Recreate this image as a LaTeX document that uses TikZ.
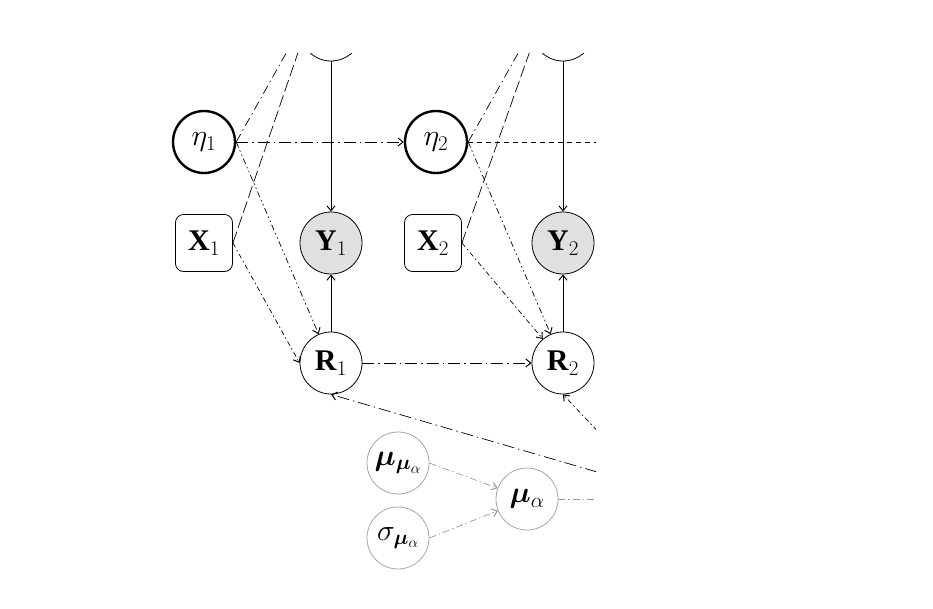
\RequirePackage{fix-cm}
\documentclass[tikz,border=0pt]{standalone}
\usepackage{amsmath,bm}
\usepackage{fontspec}
\setmainfont{Liberation Serif}
\usetikzlibrary{arrows.meta}
\tikzset{
  nd/.style={circle,draw,line width=0.8pt,minimum size=62pt,inner sep=0pt,font=\fontsize{30}{32}\selectfont},
  etand/.style={nd,line width=2.4pt},
  obs/.style={nd,fill=black!12},
  xbox/.style={rectangle,rounded corners=8pt,draw,line width=0.8pt,minimum size=57pt,inner sep=0pt,font=\fontsize{30}{32}\selectfont},
  hyp/.style={nd,draw=black!35},
  arr/.style={-{Straight Barb[length=5pt,width=8pt,line width=1pt]},line width=0.7pt},
  ee/.style={dash pattern=on 12pt off 4pt on 1.5pt off 4pt},
  er/.style={dash pattern=on 6pt off 3pt on 1.5pt off 3pt on 1.5pt off 3pt},
  xr/.style={dash pattern=on 5pt off 3pt on 1.5pt off 3pt},
  xt/.style={dash pattern=on 12pt off 4pt},
  et/.style={dash pattern=on 9pt off 4pt on 1.5pt off 4pt},
  ed/.style={dash pattern=on 5pt off 4pt},
  hyarr/.style={arr,draw=black!40,dash pattern=on 7pt off 3pt on 1.5pt off 3pt},
}
\begin{document}
\begin{tikzpicture}[x=1pt,y=-1pt]
\useasboundingbox (0,0) rectangle (933,608);
\begin{scope}
\clip (0,53) rectangle (596,608);
% nodes
\node[nd] (T1) at (331,30) {};
\node[nd] (T2) at (563,30) {};
\node[etand] (E1) at (204,142) {$\eta_1$};
\node[etand] (E2) at (436,142) {$\eta_2$};
\node[xbox] (X1) at (204,243) {\textbf{X}$_1$};
\node[xbox] (X2) at (433,243) {\textbf{X}$_2$};
\node[obs] (Y1) at (331,243) {\textbf{Y}$_1$};
\node[obs] (Y2) at (563,243) {\textbf{Y}$_2$};
\node[nd] (R1) at (331,363) {\textbf{R}$_1$};
\node[nd] (R2) at (563,363) {\textbf{R}$_2$};
\node[hyp] (MM) at (398,463) {$\boldsymbol{\mu}_{\boldsymbol{\mu}_\alpha}$};
\node[hyp] (SM) at (398,538) {$\sigma_{\boldsymbol{\mu}_\alpha}$};
\node[hyp] (MA) at (527,499) {$\boldsymbol{\mu}_\alpha$};
% free ends
\coordinate (C1) at (316,0);
\coordinate (C2) at (548,0);
\coordinate (Eout) at (640,142);
\coordinate (RA) at (700,502);
\coordinate (RB) at (640,476);
\coordinate (MAout) at (640,499);
% edges
\draw[arr] (T1) -- (Y1);
\draw[arr] (T2) -- (Y2);
\draw[arr] (R1) -- (Y1);
\draw[arr] (R2) -- (Y2);
\draw[arr,ee] (E1.east) -- (E2);
\draw[line width=0.7pt,ed] (E2.east) -- (Eout);
\draw[arr,er] (E1.east) -- (R1);
\draw[arr,er] (E2.east) -- (R2);
\draw[arr,xr] (X1.east) -- (R1.west);
\draw[arr,xr] (X2.east) -- (R2);
\draw[line width=0.7pt,et] (E1.east) -- (C1);
\draw[line width=0.7pt,et] (E2.east) -- (C2);
\draw[line width=0.7pt,xt] (X1.east) -- (C1);
\draw[line width=0.7pt,xt] (X2.east) -- (C2);
\draw[arr,ee] (R1) -- (R2);
\draw[arr,ee] (RA) -- (R1.south);
\draw[arr,xr] (RB) -- (R2.south);
\draw[hyarr] (MM.east) -- (MA);
\draw[hyarr] (SM.east) -- (MA);
\draw[line width=0.7pt,draw=black!40,dash pattern=on 7pt off 3pt on 1.5pt off 3pt] (MA) -- (MAout);
\end{scope}
\end{tikzpicture}
\end{document}
